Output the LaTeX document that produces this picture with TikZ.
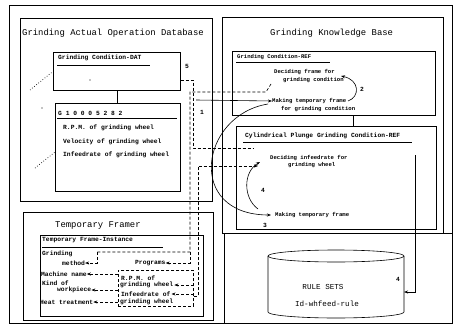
\documentclass[tikz,border=0pt]{standalone}
\usepackage{fontspec}
\setmonofont{Liberation Mono}
\usetikzlibrary{arrows.meta}
\begin{document}
\begin{tikzpicture}[x=1pt,y=-1pt,
  frame/.style={draw, line width=0.7pt, inner sep=0pt, anchor=north west},
  big/.style={font=\ttfamily\fontsize{8.9}{9}\selectfont, inner sep=0pt, anchor=west},
  sm/.style={font=\ttfamily\bfseries\fontsize{6.3}{7}\selectfont, inner sep=0pt, anchor=west},
  smr/.style={font=\ttfamily\bfseries\fontsize{5.6}{6}\selectfont, inner sep=0pt, anchor=west},
  rs/.style={font=\ttfamily\fontsize{7.6}{8}\selectfont, inner sep=0pt},
  num/.style={font=\ttfamily\bfseries\fontsize{6.3}{7}\selectfont, inner sep=0pt},
  dline/.style={dash pattern=on 3pt off 2pt, line width=0.6pt},
  sline/.style={line width=0.6pt},
  tip/.style={-{Stealth[length=4pt,width=3pt]}}
]
\useasboundingbox (0,0) rectangle (457,329);
\fill[white] (0,0) rectangle (457,329);

% frames
\draw[line width=0.7pt] (9,5) rectangle (452,323);
\node[frame, minimum width=192pt, minimum height=183pt] (dbpanel) at (20,18) {};
\node[frame, minimum width=190pt, minimum height=108pt] (tfpanel) at (23,212) {};
\node[frame, minimum width=221pt, minimum height=216pt] (kbpanel) at (222,17) {};
\node[frame, minimum width=228pt, minimum height=90pt] (rbpanel) at (224,233) {};

% boxes
\node[frame, minimum width=127pt, minimum height=38pt] (dat) at (53,52) {};
\node[frame, minimum width=125pt, minimum height=88pt] (gbox) at (55,103) {};
\node[frame, minimum width=163pt, minimum height=81pt] (inst) at (40,235) {};
\node[frame, minimum width=203pt, minimum height=64pt] (ref) at (232,51) {};
\node[frame, minimum width=200pt, minimum height=103pt] (cyl) at (236,126) {};

% titles
\node[big] (dbtitle) at (22,33) {Grinding Actual Operation Database};
\node[big] (kbtitle) at (270,33) {Grinding Knowledge Base};
\node[big] (tftitle) at (55,225) {Temporary Framer};

% DAT box
\node[sm] (dattitle) at (58,58) {Grinding Condition-DAT};
\draw[sline] (57,65) -- (150,65);
\fill (90,80) circle (0.6);

% G box
\node[sm] (gid) at (58,113) {G 1 0 0 0 5 2 8 2};
\draw[sline] (57,118) -- (177,118);
\node[sm] (rpm) at (63,128) {R.P.M. of grinding wheel};
\node[sm] (vel) at (63,142) {Velocity of grinding wheel};
\node[sm] (inf) at (63,155) {Infeedrate of grinding wheel};

% dotted marks at left
\draw[dotted, line width=0.7pt] (30,90) -- (dat.west);
\draw[dotted, line width=0.7pt] (35,168) -- (55,152);
\fill (42,108) circle (0.6);

% instance box
\node[sm] (insttitle) at (42,240) {Temporary Frame-Instance};
\draw[sline] (42,247) -- (163,247);
\node[sm] (grind) at (42,254) {Grinding};
\node[sm] (method) at (62,263) {method};
\node[sm] (prog) at (135,263) {Programs};
\node[sm] (mach) at (41,274) {Machine name};
\node[sm] (kind) at (42,283) {Kind of};
\node[sm] (work) at (57,290) {workpiece};
\node[sm] (heat) at (40,302) {Heat treatment};
\node[sm] (rpma) at (121,278) {R.P.M. of};
\node[sm] (rpmb) at (120,285) {grinding wheel};
\node[sm] (infa) at (121,294) {Infeedrate of};
\node[sm] (infb) at (120,302) {grinding wheel};
\node[draw, dline, inner sep=0pt, anchor=north west, minimum width=75pt, minimum height=36pt] (rr) at (118,270) {};

% REF box
\node[smr] (reftitle) at (237,57) {Grinding Condition-REF};
\draw[sline] (236,62) -- (330,62);
\node[smr] (dec1a) at (274,72) {Deciding frame for};
\node[smr] (dec1b) at (283,80) {grinding condition};
\node[smr] (mk1a) at (272,101) {Making temporary frame};
\node[smr] (mk1b) at (281,109) {for grinding condition};

% Cylindrical box
\node[sm] (cyltitle) at (245,136) {Cylindrical Plunge Grinding Condition-REF};
\draw[sline] (243,142) -- (412,142);
\node[smr] (dec2a) at (270,158) {Deciding infeedrate for};
\node[smr] (dec2b) at (288,165) {grinding wheel};
\node[smr] (mk2) at (275,215) {Making temporary frame};

% rule set cylinder
\draw[sline] (336,256) ellipse [x radius=68, y radius=6];
\draw[sline] (268,256) -- (268,312) arc[start angle=180, end angle=0, x radius=68, y radius=6] -- (404,256);
\node[rs] (rs1) at (323,287) {RULE SETS};
\node[rs] (rs2) at (327,304) {Id-whfeed-rule};
\coordinate (rse) at (404,292);

% number labels
\node[num] (n5) at (187,66) {5};
\node[num] (n1) at (202,112) {1};
\node[num] (n2) at (362,89) {2};
\node[num] (n3) at (265,225) {3};
\node[num] (n4a) at (263,190) {4};
\node[num] (n4b) at (398,279) {4};

% short links between boxes
\draw[sline] (dat.south) -- (dat.south |- gbox.north);
\coordinate (rc) at (353,115);
\draw[sline] (rc) -- (rc |- cyl.north);

% connector 5
\coordinate (c5a) at (193,80);
\coordinate (c5b) at (193,148);
\coordinate (c5c) at (253,148);
\draw[dline] (dat.east |- c5a) -- (c5a) -- (c5b) -- (c5c);

% dashed link from Deciding frame down to the instance slots
\coordinate (d1a) at (271,84);
\coordinate (d1b) at (266,92);
\coordinate (d1c) at (190,92);
\coordinate (d1d) at (190,252);
\coordinate (d1e) at (97,252);
\draw[dline] (d1a) -- (d1b) -- (d1c) -- (d1d) -- (d1e);
\draw[dline, tip] (d1e) |- (method.east);
\draw[dline, tip] (d1d) |- (prog.east);

% slot arrows
\draw[dline, tip] (rr.west |- mach.east) -- (mach.east);
\draw[dline, tip] (rr.west |- work.east) -- (work.east);
\draw[dline, tip] (rr.west |- heat.east) -- (heat.east);
\draw[dline, tip] (rr.east |- rpmb.east) -- ([xshift=1pt]rpmb.east);
\draw[dline, tip] (rr.east |- infa.east) -- ([xshift=1pt]infa.east);

% dashed link to Deciding infeedrate
\coordinate (d2a) at (198,296);
\coordinate (d2b) at (198,166);
\coordinate (d2c) at (258,166);
\draw[dline, tip] (rr.east |- d2a) -- (d2a) -- (d2b) -- (d2c);

% arrow 1
\coordinate (c1) at (196,100);
\draw[sline, tip] (c1) -- (mk1a.west);

% loop 2
\coordinate (l2s) at (348,101);
\coordinate (l2e) at (341,76);
\draw[sline, tip] (l2s) .. controls (360,97) and (360,80) .. (l2e);

% curve 3
\coordinate (c3a) at (268,104);
\coordinate (c3b) at (271,215);
\draw[sline, tip] (c3a) .. controls (200,115) and (185,215) .. (c3b);

% arc 4
\coordinate (a4s) at (258,209);
\coordinate (a4e) at (260,162);
\draw[sline, tip] (a4s) .. controls (243,198) and (243,172) .. (a4e);

% arrow to rule sets
\coordinate (r4) at (415,155);
\draw[sline, tip] (r4) |- (rse);
\end{tikzpicture}
\end{document}
